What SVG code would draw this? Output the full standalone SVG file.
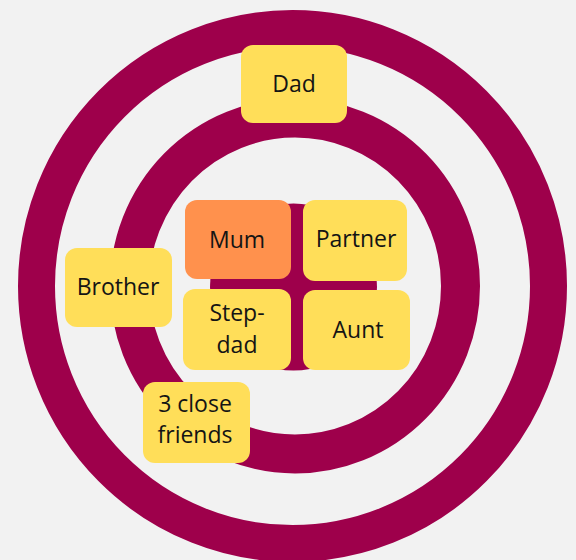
<svg xmlns="http://www.w3.org/2000/svg" width="576" height="560" viewBox="0 0 576 560">
  <style>
    .ring { fill: none; stroke: #9E004B; }
    .box { fill: #FFDE59; }
    .box.mum { fill: #FF914D; }
    text { font-family: "Open Sans", "Noto Sans", "DejaVu Sans", sans-serif; font-size: 23px; fill: #141414; text-anchor: middle; }
  </style>
  <rect x="0" y="0" width="576" height="560" fill="#F2F2F2"/>
  <g id="rings">
    <ellipse class="ring" cx="292.5" cy="286" rx="256" ry="257.5" stroke-width="37"/>
    <ellipse class="ring" cx="295" cy="286" rx="165.5" ry="168" stroke-width="39"/>
    <circle cx="293.5" cy="287" r="83.5" fill="#9E004B"/>
  </g>
  <g id="dad">
    <rect class="box" x="241" y="45" width="106" height="78" rx="12"/>
    <text x="294" y="92">Dad</text>
  </g>
  <g id="mum">
    <rect class="box mum" x="185" y="200" width="106" height="79" rx="12"/>
    <text x="237" y="248">Mum</text>
  </g>
  <g id="partner">
    <rect class="box" x="303" y="200" width="104" height="81" rx="12"/>
    <text x="356" y="247">Partner</text>
  </g>
  <g id="stepdad">
    <rect class="box" x="183" y="289" width="108" height="81" rx="12"/>
    <text x="237" y="321">Step-</text>
    <text x="237" y="353">dad</text>
  </g>
  <g id="aunt">
    <rect class="box" x="303" y="290" width="107" height="80" rx="12"/>
    <text x="358" y="338">Aunt</text>
  </g>
  <g id="brother">
    <rect class="box" x="65" y="248" width="107" height="79" rx="12"/>
    <text x="118" y="295">Brother</text>
  </g>
  <g id="friends">
    <rect class="box" x="143" y="382" width="107" height="81" rx="12"/>
    <text x="195" y="412">3 close</text>
    <text x="195" y="443">friends</text>
  </g>
</svg>
